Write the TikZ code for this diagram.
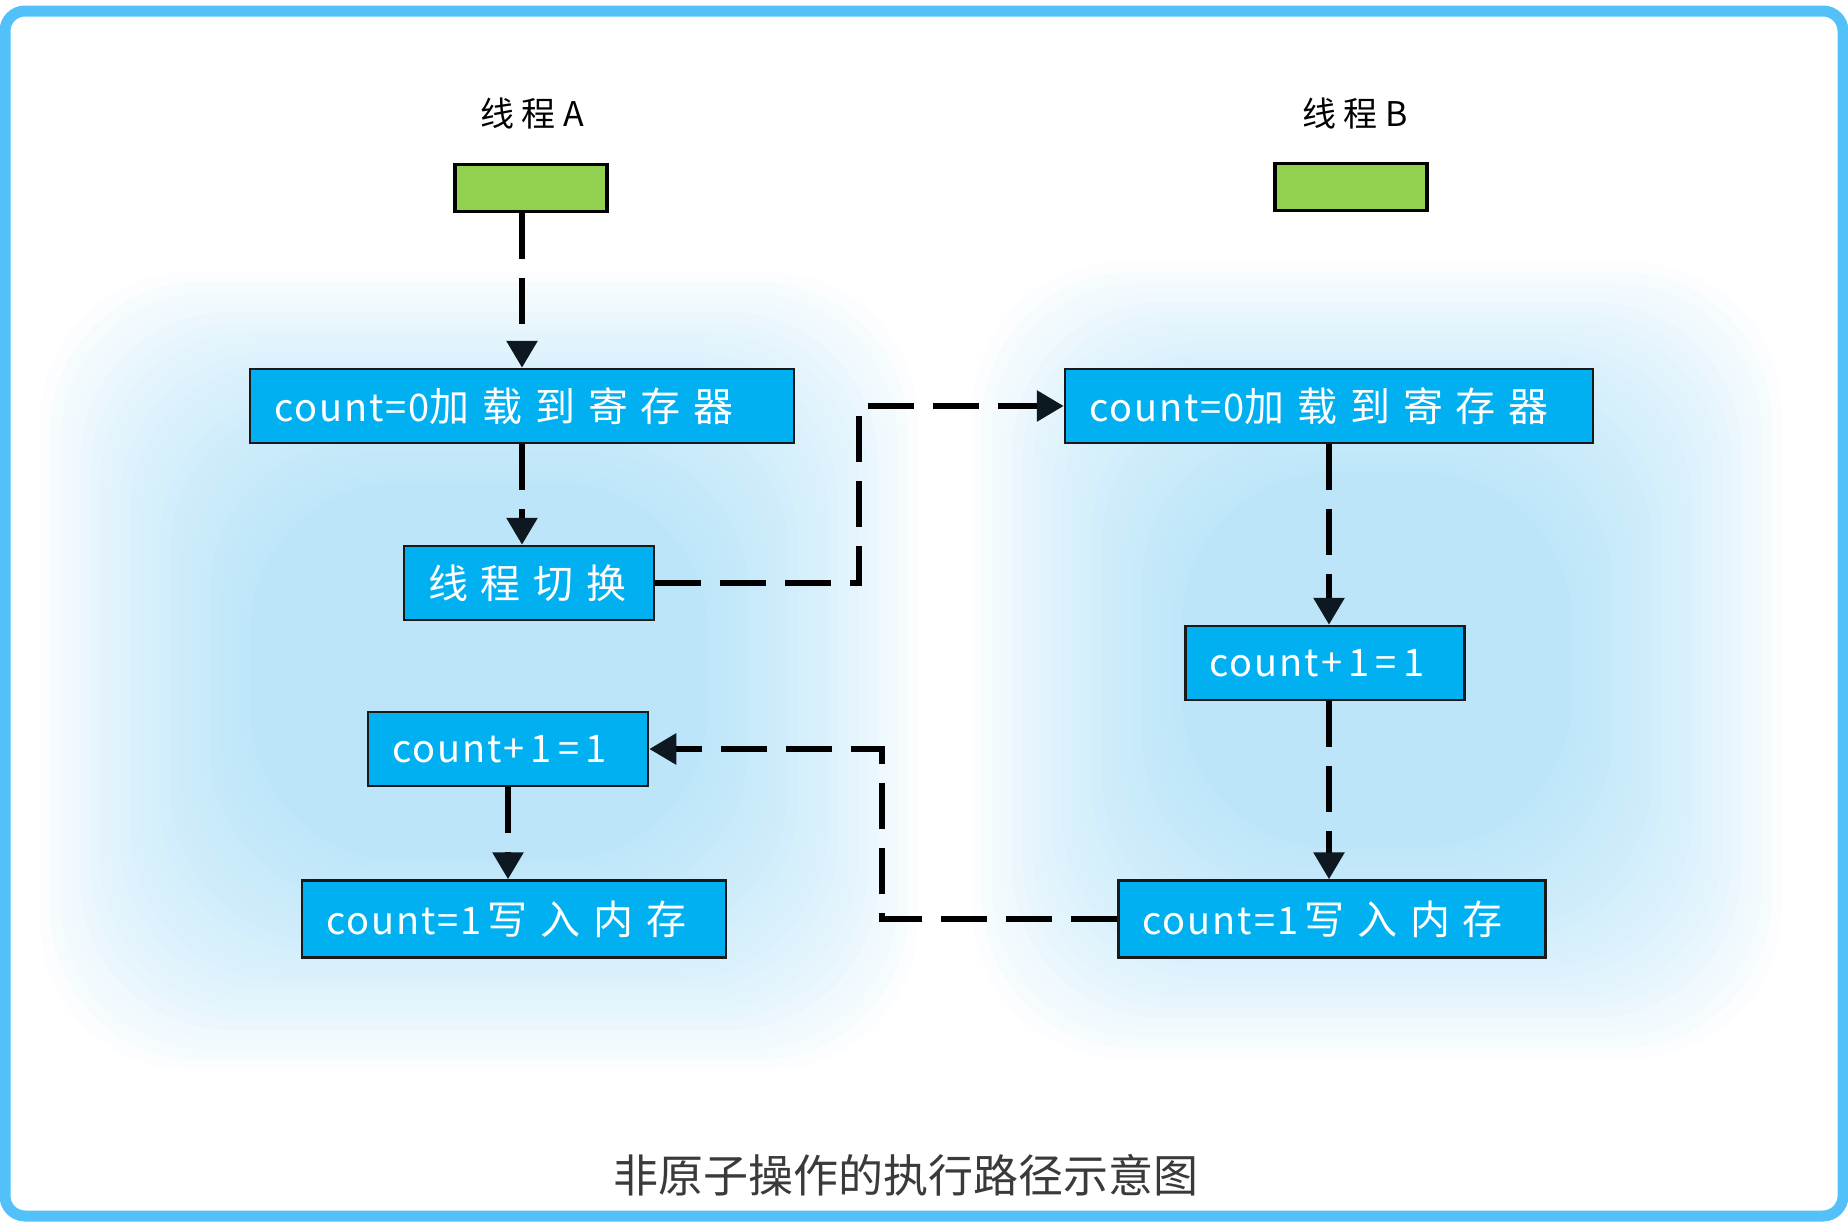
\documentclass[tikz,border=0pt]{standalone}
\usepackage{fontspec}
\setmainfont{Noto Sans CJK SC}
\usetikzlibrary{arrows.meta}

\definecolor{framecol}{HTML}{53C1F9}
\definecolor{boxcol}{HTML}{00B0F0}
\definecolor{greencol}{HTML}{92D050}
\definecolor{glowcol}{HTML}{86D0F4}
\definecolor{capcol}{HTML}{3A3A3A}
\definecolor{tipcol}{HTML}{0D1820}

\newcommand\boxfont{\fontsize{38}{44}\selectfont\addfontfeature{LetterSpace=5}}
\newcommand\labfont{\fontsize{34}{40}\selectfont\addfontfeature{LetterSpace=22}}
\newcommand\cj[1]{{\fontsize{40}{44}\selectfont\addfontfeature{LetterSpace=32}#1}}

\tikzset{
  opbox/.style={draw=black!90, line width=2.5pt, fill=boxcol, text=white,
    minimum height=74pt, inner xsep=24pt, align=left, font=\boxfont},
  thread/.style={draw=black, line width=3.5pt, fill=greencol,
    minimum width=152pt, minimum height=47pt},
  lab/.style={font=\labfont, text=black},
  flow/.style={line width=6pt, dash pattern=on 46pt off 19pt,
    -{Triangle[width=30pt,length=27pt,color=tipcol]}},
}

\begin{document}
\begin{tikzpicture}[x=1pt, y=-1pt]
  \useasboundingbox (0,0) rectangle (1848,1226);

  % soft glow behind the two columns
  \foreach \k in {0,...,21}{
    \fill[glowcol, opacity=0.034, rounded corners=150pt]
      ({40+\k*10},{272+\k*10}) rectangle ({918-\k*10},{1070-\k*10});
    \fill[glowcol, opacity=0.034, rounded corners=150pt]
      ({972+\k*10},{262+\k*10}) rectangle ({1782-\k*10},{1058-\k*10});
  }

  % frame
  \draw[framecol, line width=11pt, rounded corners=20pt] (5,11) rectangle (1843,1216);

  % thread A
  \node[lab] (labA) at (532,114) {线程A};
  \node[thread] (gA) at (531,188) {};
  \node[opbox, text width=496pt] (a1) at (522,406) {count=0\cj{加载到寄存器}};
  \node[opbox, text width=202pt] (a2) at (529,583) {\cj{线程切换}};
  \node[opbox, text width=232pt] (a3) at (508,749) {count+\,1\,=\,1};
  \node[opbox, text width=376pt, minimum height=77pt] (a4) at (514,919) {count=1\,\cj{写入内存}};

  % thread B
  \node[lab] (labB) at (1355,114) {线程B};
  \node[thread] (gB) at (1351,187) {};
  \node[opbox, text width=480pt] (b1) at (1329,406) {count=0\cj{加载到寄存器}};
  \node[opbox, text width=231pt] (b2) at (1325,663) {count+\,1\,=\,1};
  \node[opbox, text width=379pt, minimum height=77pt] (b3) at (1332,919) {count=1\,\cj{写入内存}};

  % turning points of the switch lines
  \coordinate (turnA) at (859,406);
  \coordinate (turnB) at (882,749);

  \draw[flow] (a1.north |- gA.south) -- (a1.north);
  \draw[flow] (a1.south) -- (a1.south |- a2.north);
  \draw[flow] (a2.east) -| (turnA) |- (b1.west);
  \draw[flow] (b1.south) -- (b1.south |- b2.north);
  \draw[flow] (b1.south |- b2.south) -- (b1.south |- b3.north);
  \draw[flow] (b3.west) -| (turnB) |- (a3.east);
  \draw[flow] (a3.south) -- (a3.south |- a4.north);

  % caption
  \node[font=\fontsize{45}{54}\selectfont, text=capcol] (cap) at (906,1175) {非原子操作的执行路径示意图};
\end{tikzpicture}
\end{document}
